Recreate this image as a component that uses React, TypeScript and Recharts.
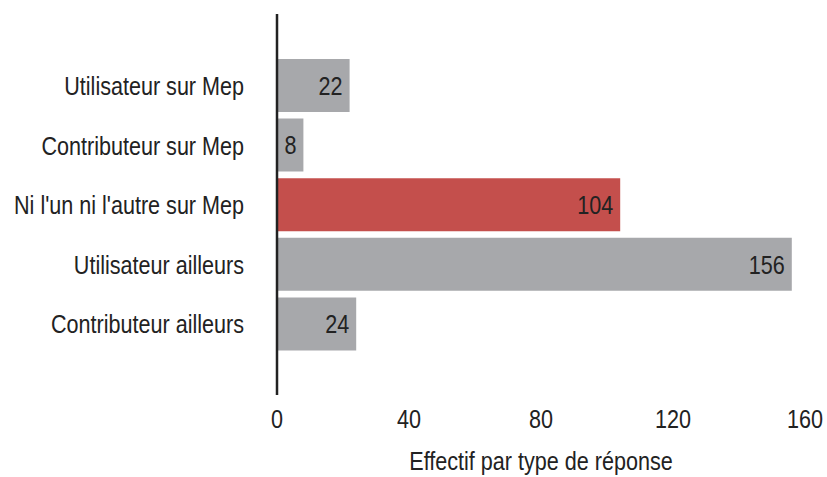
import { BarChart, Bar, XAxis, YAxis, Cell, LabelList } from 'recharts';

const categories = [
  'Utilisateur sur Mep',
  'Contributeur sur Mep',
  "Ni l'un ni l'autre sur Mep",
  'Utilisateur ailleurs',
  'Contributeur ailleurs',
];
const counts = [22, 8, 104, 156, 24];
const highlighted = "Ni l'un ni l'autre sur Mep";
const xTicks = [0, 40, 80, 120, 160];

const data = categories.map((name, i) => ({ name, count: counts[i] }));

// condensed look (like Arial Narrow) made by squeezing Liberation Sans
const NarrowText = ({ x, y, anchor, children }: any) => (
  <text
    transform={`translate(${x},${y}) scale(0.83,1)`}
    textAnchor={anchor}
    dominantBaseline="central"
    fontSize={26}
    fill="#222"
    fontFamily='"Liberation Sans", Arial, sans-serif'
  >
    {children}
  </text>
);

const YTick = ({ x, y, payload }: any) => (
  <NarrowText x={x} y={y} anchor="end">{payload.value}</NarrowText>
);

const XTick = ({ x, payload }: any) => (
  <NarrowText x={x} y={419} anchor="middle">{payload.value}</NarrowText>
);

const ValueLabel = ({ x, y, width, height, value }: any) => (
  <NarrowText x={x + width - 7} y={y + height / 2} anchor="end">{value}</NarrowText>
);

const AxisTitle = ({ viewBox }: any) => (
  <NarrowText x={viewBox.x + viewBox.width / 2} y={461} anchor="middle">
    Effectif par type de réponse
  </NarrowText>
);

const App = () => {
  return (
    <div style={{ position: 'absolute', left: 0, top: 0 }}>
      <BarChart
        width={827}
        height={477}
        layout="vertical"
        data={data}
        margin={{ top: 14, right: 22, bottom: 0, left: 0 }}
      >
        <XAxis
          type="number"
          domain={[0, 160]}
          ticks={xTicks}
          height={82}
          axisLine={false}
          tickLine={false}
          tick={<XTick />}
          label={{ content: <AxisTitle /> }}
        />
        <YAxis
          type="category"
          dataKey="name"
          width={277}
          padding={{ top: 42, bottom: 41 }}
          axisLine={{ stroke: '#222', strokeWidth: 2.5 }}
          tickLine={false}
          tickSize={0}
          tickMargin={33}
          tick={<YTick />}
          interval={0}
        />
        <Bar dataKey="count" barSize={53} isAnimationActive={false}>
          {data.map((d) => (
            <Cell key={d.name} fill={d.name === highlighted ? '#c44f4c' : '#a7a8ab'} />
          ))}
          <LabelList dataKey="count" content={<ValueLabel />} />
        </Bar>
      </BarChart>
    </div>
  );
};

export default App;
